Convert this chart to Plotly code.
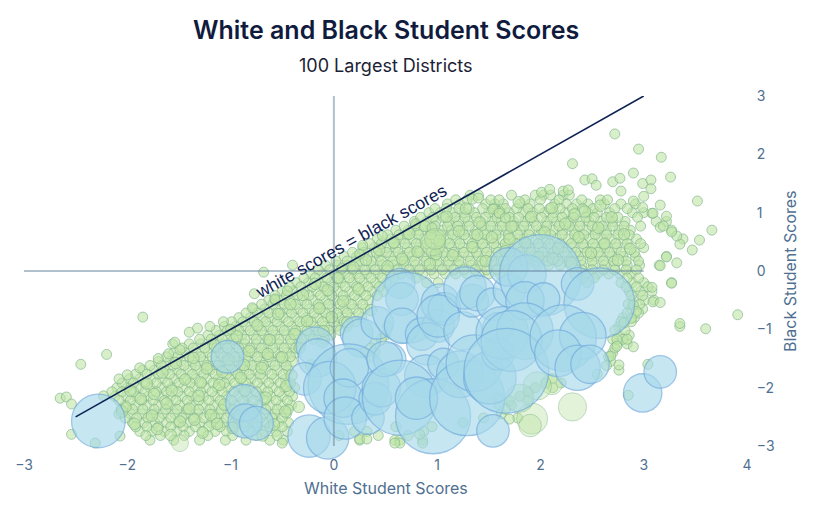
import plotly.graph_objects as go

# ---------------- data ----------------
# Blue bubbles: 100 largest districts (x = white score, y = black score, students in thousands)
big_x = [-2.28, -1.03, -0.87, -0.86, -0.75, -0.18, -0.16, -0.28, -0.24, -0.06,
         0.22, 0.27, 0.14, -0.04, 0.15, 0.09, 0.11, 0.33, 0.40, 0.46,
         0.42, 0.64, 0.66, 0.71, 0.66, 0.54, 0.49, 0.85, 1.01, 0.91,
         0.89, 0.64, 0.96, 0.80, 1.06, 1.03, 1.07, 1.01, 1.22, 1.29,
         1.25, 1.34, 1.27, 1.39, 1.36, 1.51, 1.54, 1.59, 1.59, 1.63,
         1.70, 1.69, 1.87, 2.00, 1.85, 2.03, 1.85, 1.72, 1.67, 2.36,
         2.57, 2.22, 2.41, 2.17, 2.36, 2.48, 1.54, 2.99, 3.16]
big_y = [-2.57, -1.47, -2.26, -2.57, -2.61, -1.29, -1.49, -1.85, -2.83, -2.86,
         -1.06, -1.15, -1.94, -2.00, -1.66, -2.18, -2.52, -2.52, -2.19, -2.00,
         -0.89, -0.21, -0.48, -0.63, -0.94, -1.51, -1.51, -1.08, -0.94, -1.25,
         -1.80, -2.17, -2.49, -2.18, -1.59, -0.55, -0.65, -0.77, -1.77, -2.18,
         -1.03, -0.51, -0.29, -0.38, -1.58, -1.83, -0.57, -0.98, -1.42, -1.06,
         -0.34, 0.07, -0.05, -0.08, -0.51, -0.48, -1.03, -1.20, -1.71, -0.22,
         -0.55, -1.15, -1.11, -1.41, -1.66, -1.60, -2.74, -2.09, -1.73]
big_students = [90, 33, 42, 36, 36, 46, 46, 33, 56, 56,
                33, 46, 203, 86, 46, 46, 56, 33, 33, 46,
                33, 28, 33, 156, 39, 33, 39, 33, 33, 56,
                56, 176, 176, 56, 30, 46, 33, 56, 68, 176,
                46, 33, 56, 39, 100, 86, 33, 30, 33, 86,
                33, 46, 46, 210, 46, 33, 100, 116, 225, 33,
                156, 138, 68, 68, 64, 46, 33, 46, 33]

# Green points: all other districts, listed row by row (black score of row, white scores in row)
row_y = [1.30, 1.15, 1.00, 0.85, 0.70, 0.55, 0.40, 0.25, 0.10, -0.05,
         -0.20, -0.35, -0.50, -0.65, -0.80, -0.95, -1.10, -1.25, -1.40, -1.55,
         -1.70, -1.85, -2.00, -2.15, -2.30, -2.45, -2.60, -2.75, -2.90,
         1.22, 1.07, 0.92, 0.77, 0.62, 0.47, 0.32, 0.17, 0.02, -0.12,
         -0.27, -0.42, -0.57, -0.72, -0.87, -1.02, -1.17, -1.32, -1.47, -1.62,
         -1.77, -1.92, -2.07, -2.22, -2.37, -2.52, -2.67, -2.82]
row_x = [
    [1.32, 1.40, 1.72, 1.95, 2.03, 2.10, 2.22, 2.28],
    [1.10, 1.22, 1.47, 1.56, 1.64, 1.80, 1.90, 2.14, 2.25, 2.35, 2.46, 2.62, 2.78, 2.92],
    [0.92, 1.03, 1.15, 1.26, 1.36, 1.50, 1.61, 1.70, 1.83, 1.93, 2.04, 2.13, 2.24, 2.33, 2.46, 2.55, 2.67, 2.89, 3.00],
    [0.78, 0.90, 0.99, 1.11, 1.21, 1.30, 1.42, 1.53, 1.62, 1.74, 1.85, 1.94, 2.06, 2.16, 2.27, 2.38, 2.47, 2.58, 2.70, 2.82, 3.12, 3.22],
    [0.60, 0.72, 0.82, 0.93, 1.05, 1.14, 1.25, 1.37, 1.47, 1.58, 1.68, 1.80, 1.90, 2.01, 2.12, 2.22, 2.33, 2.44, 2.54, 2.64, 2.76, 2.87, 3.27],
    [0.42, 0.55, 0.65, 0.76, 0.87, 0.98, 1.09, 1.19, 1.30, 1.41, 1.51, 1.62, 1.73, 1.84, 1.94, 2.05, 2.16, 2.27, 2.37, 2.48, 2.59, 2.69, 2.80, 2.93, 3.38],
    [0.28, 0.39, 0.50, 0.60, 0.71, 0.82, 0.93, 1.03, 1.14, 1.25, 1.35, 1.46, 1.57, 1.67, 1.78, 1.89, 1.99, 2.10, 2.21, 2.31, 2.42, 2.53, 2.63, 2.74, 2.86, 3.00],
    [0.10, 0.22, 0.33, 0.44, 0.55, 0.66, 0.76, 0.87, 0.98, 1.08, 1.19, 1.30, 1.40, 1.51, 1.62, 1.72, 1.83, 1.94, 2.05, 2.15, 2.26, 2.37, 2.48, 2.58, 2.69, 2.80, 2.92, 3.22],
    [-0.08, 0.03, 0.14, 0.25, 0.36, 0.47, 0.58, 0.68, 0.79, 0.90, 1.01, 1.11, 1.22, 1.33, 1.43, 1.54, 1.65, 1.76, 1.86, 1.97, 2.08, 2.19, 2.29, 2.40, 2.51, 2.62, 2.72, 2.84, 2.96, 3.15],
    [-0.22, -0.11, 0.00, 0.11, 0.22, 0.32, 0.43, 0.54, 0.65, 0.75, 0.86, 0.97, 1.08, 1.18, 1.29, 1.40, 1.50, 1.61, 2.33, 2.44, 2.55, 2.66, 2.77, 2.88],
    [-0.36, -0.25, -0.14, -0.03, 0.07, 0.18, 0.29, 0.40, 0.51, 0.90, 1.01, 2.45, 2.78, 2.89, 3.00, 3.27],
    [-0.50, -0.39, -0.28, -0.17, -0.06, 0.04, 0.15, 0.26, 0.37, 0.48, 2.86, 2.97, 3.08],
    [-0.63, -0.52, -0.42, -0.31, -0.20, -0.09, 0.01, 0.12, 0.23, 0.34, 2.90, 3.01, 3.10],
    [-0.78, -0.67, -0.56, -0.45, -0.35, -0.24, -0.13, -0.02, 0.09, 0.19, 0.30, 2.88, 2.99],
    [-0.92, -0.81, -0.70, -0.60, -0.49, -0.38, -0.27, -0.16, -0.06, 0.05, 0.16, 0.27, 2.80, 2.91],
    [-1.06, -0.95, -0.85, -0.74, -0.63, -0.52, -0.41, -0.31, -0.20, -0.09, 0.02, 0.13, 0.52, 2.76, 3.35],
    [-1.22, -1.11, -1.00, -0.89, -0.78, -0.68, -0.57, -0.46, -0.35, -0.24, -0.14, -0.03, 0.50, 2.76, 2.86],
    [-1.40, -1.29, -1.18, -1.07, -0.96, -0.86, -0.75, -0.64, -0.53, -0.42, -0.32, 0.40, 2.74, 2.84],
    [-1.55, -1.44, -1.33, -1.22, -1.11, -1.00, -0.89, -0.79, -0.68, -0.57, -0.46, -0.36, 0.30, 0.40, 2.70],
    [-1.70, -1.59, -1.48, -1.37, -1.26, -1.15, -1.05, -0.94, -0.83, -0.72, -0.61, -0.50, -0.40, 2.68],
    [-1.85, -1.74, -1.63, -1.52, -1.41, -1.31, -1.20, -1.09, -0.98, -0.87, -0.76, -0.66, -0.55, -0.44, 2.76],
    [-1.98, -1.88, -1.77, -1.66, -1.55, -1.44, -1.34, -1.23, -1.12, -1.01, -0.90, -0.80, -0.69, -0.58, -0.47, 2.11],
    [-2.10, -2.00, -1.89, -1.78, -1.67, -1.57, -1.46, -1.35, -1.24, -1.13, -1.03, -0.92, -0.81, -0.70, -0.59, -0.48, -0.38, 1.95, 2.12],
    [-2.12, -2.01, -1.91, -1.80, -1.69, -1.58, -1.47, -1.37, -1.26, -1.15, -1.04, -0.93, -0.83, -0.72, -0.61, -0.50, -0.40, 1.80],
    [-2.02, -1.92, -1.81, -1.70, -1.59, -1.49, -1.38, -1.27, -1.16, -1.05, -0.95, -0.84, -0.73, -0.62, -0.51, -0.41, 1.60, 1.72],
    [-2.08, -1.97, -1.86, -1.75, -1.65, -1.54, -1.43, -1.32, -1.21, -1.11, -1.00, -0.89, -0.78, -0.67, -0.57, -0.46, 1.62],
    [-1.95, -1.84, -1.73, -1.62, -1.51, -1.41, -1.30, -1.19, -1.08, -0.97, -0.87, -0.76, -0.65, -0.54, -0.44, 1.25],
    [-1.88, -1.76, -1.64, -1.52, -1.40, -1.27, -1.15, -1.04, -0.92, -0.80, -0.68, -0.56, -0.45, 0.20, 0.32, 0.87],
    [-1.78, -1.55, -1.30, -1.05, -0.85, -0.62, -0.49, 0.25, 0.59, 0.64, 0.86],
    # in-between rows
    [1.18, 1.29, 1.52, 1.60, 1.85, 2.00, 2.18, 2.40, 2.58],
    [0.98, 1.09, 1.21, 1.31, 1.44, 1.55, 1.66, 1.77, 1.88, 1.99, 2.09, 2.19, 2.31, 2.41, 2.51, 2.72, 2.84],
    [0.84, 0.96, 1.06, 1.17, 1.27, 1.38, 1.47, 1.58, 1.70, 1.79, 1.90, 2.01, 2.12, 2.21, 2.32, 2.44, 2.52, 2.64, 2.75, 2.94],
    [0.68, 0.79, 0.88, 0.98, 1.10, 1.20, 1.31, 1.43, 1.52, 1.63, 1.74, 1.84, 1.96, 2.06, 2.18, 2.28, 2.38, 2.50, 2.60, 2.70, 2.81, 2.97],
    [0.52, 0.63, 0.71, 0.82, 0.94, 1.04, 1.15, 1.26, 1.36, 1.46, 1.57, 1.69, 1.78, 1.89, 2.00, 2.10, 2.21, 2.33, 2.42, 2.53, 2.64, 2.75, 2.86],
    [0.35, 0.46, 0.58, 0.69, 0.80, 0.90, 1.02, 1.12, 1.22, 1.34, 1.44, 1.55, 1.66, 1.77, 1.87, 1.98, 2.09, 2.19, 2.30, 2.41, 2.51, 2.62, 2.73, 2.84, 2.97],
    [0.18, 0.29, 0.41, 0.51, 0.62, 0.73, 0.83, 0.94, 1.06, 1.16, 1.26, 1.38, 1.48, 1.59, 1.70, 1.80, 1.91, 2.02, 2.13, 2.23, 2.34, 2.45, 2.56, 2.67, 2.78, 2.91],
    [0.02, 0.13, 0.24, 0.36, 0.46, 0.57, 0.68, 0.78, 0.89, 1.00, 1.11, 1.21, 1.32, 1.43, 1.53, 1.64, 1.75, 1.85, 1.96, 2.07, 2.17, 2.28, 2.39, 2.50, 2.61, 2.71, 2.83, 2.95],
    [-0.15, -0.04, 0.07, 0.18, 0.30, 0.40, 0.51, 0.62, 0.73, 0.83, 0.94, 1.05, 1.16, 1.26, 1.37, 1.48, 1.58, 1.69, 2.40, 2.50, 2.61, 2.72, 2.83, 2.93],
    [-0.29, -0.18, -0.07, 0.04, 0.15, 0.25, 0.36, 0.47, 0.58, 0.80, 2.41, 2.52, 2.84, 2.95],
    [-0.43, -0.32, -0.21, -0.10, 0.00, 0.11, 0.22, 0.33, 0.44, 2.83, 2.93, 3.04],
    [-0.57, -0.46, -0.35, -0.24, -0.13, -0.02, 0.09, 0.20, 0.31, 0.42, 2.88, 2.99],
    [-0.70, -0.59, -0.48, -0.37, -0.26, -0.15, -0.05, 0.06, 0.17, 0.28, 2.85, 2.96],
    [-0.85, -0.74, -0.63, -0.52, -0.41, -0.30, -0.19, -0.08, 0.03, 0.13, 0.24, 2.84, 2.95],
    [-0.99, -0.88, -0.77, -0.66, -0.55, -0.44, -0.33, -0.22, -0.11, 0.00, 0.10, 0.21, 2.78, 2.88],
    [-1.14, -1.03, -0.92, -0.81, -0.70, -0.59, -0.48, -0.37, -0.26, -0.15, -0.05, 0.06, 2.72, 2.82],
    [-1.30, -1.19, -1.08, -0.97, -0.86, -0.75, -0.64, -0.53, -0.42, -0.31, -0.20, -0.09, 0.46, 2.70, 2.80],
    [-1.47, -1.36, -1.25, -1.14, -1.03, -0.92, -0.81, -0.70, -0.59, -0.48, -0.37, 0.36, 2.72],
    [-1.62, -1.51, -1.40, -1.29, -1.18, -1.07, -0.96, -0.85, -0.74, -0.63, -0.52, -0.42, 0.35, 2.66],
    [-1.78, -1.67, -1.56, -1.45, -1.34, -1.23, -1.12, -1.01, -0.90, -0.79, -0.68, -0.57, -0.46, 2.64],
    [-1.92, -1.81, -1.70, -1.59, -1.48, -1.37, -1.26, -1.15, -1.04, -0.93, -0.82, -0.71, -0.60, -0.49, 2.55],
    [-2.05, -1.94, -1.83, -1.72, -1.61, -1.50, -1.39, -1.28, -1.17, -1.06, -0.96, -0.85, -0.74, -0.63, -0.52, -0.42, 2.05, 2.20],
    [-2.15, -2.05, -1.94, -1.83, -1.72, -1.62, -1.51, -1.40, -1.29, -1.18, -1.08, -0.97, -0.86, -0.75, -0.64, -0.53, -0.43, 1.88],
    [-2.08, -1.97, -1.86, -1.75, -1.64, -1.53, -1.42, -1.31, -1.21, -1.10, -0.99, -0.88, -0.78, -0.67, -0.56, -0.45, 1.70, 1.88],
    [-2.06, -1.95, -1.85, -1.74, -1.63, -1.52, -1.42, -1.31, -1.20, -1.09, -0.98, -0.88, -0.77, -0.66, -0.55, -0.44, 1.66],
    [-2.02, -1.91, -1.80, -1.69, -1.58, -1.47, -1.36, -1.26, -1.15, -1.04, -0.93, -0.82, -0.71, -0.60, -0.50, 1.45, 1.78],
    [-1.92, -1.81, -1.70, -1.58, -1.46, -1.34, -1.21, -1.10, -0.98, -0.86, -0.74, -0.62, -0.50, 0.60, 0.95],
    [-1.82, -1.68, -1.45, -1.22, -0.98, -0.75, -0.55, 0.05, 0.43, 0.72],
]

# Additional districts scattered inside the main cloud
fill_x = [-2.05, -1.93, -1.87, -1.81, -1.76, -1.71, -1.66, -1.62, -1.57, -1.53, -1.49, -1.44, -1.40, -1.36,
          -1.31, -1.27, -1.23, -1.19, -1.15, -1.11, -1.06, -1.02, -0.98, -0.94, -0.90, -0.86, -0.82, -0.78,
          -0.74, -0.70, -0.66, -0.62, -0.58, -0.54, -0.50, -0.46, -0.42, -0.38, -0.34, -0.30, -0.26, -0.22,
          -0.18, -0.14, -0.10, -0.06, -0.02, 0.04, 0.09, 0.13, 0.19, 0.24, 0.31, 0.36, -1.97, -1.74, -1.58,
          -1.35, -1.13, -0.92, -0.69, -0.47, -0.64, -0.87, -1.08, -1.29, -0.33, -0.41, -0.11,
          0.44, 0.52, 0.58, 0.66, 0.73, 0.81, 0.88, 0.93, 1.02, 1.09, 1.15, 1.21, 1.28, 1.34, 1.41, 1.47,
          1.53, 1.60, 1.66, 1.72, 1.79, 1.85, 1.91, 1.98, 2.04, 2.11, 2.17, 2.24, 2.30, 2.37, 2.43, 2.49,
          2.56, 2.62, 2.69, 2.75, 2.81, 2.87, 2.12, 1.39, 0.99, 2.58, 1.70, 2.33]
fill_y = [-2.41, -2.62, -2.19, -1.93, -2.48, -2.71, -1.74, -2.27, -2.05, -1.58, -2.58, -1.86, -2.36, -1.49,
          -2.14, -2.77, -1.67, -2.47, -1.28, -1.95, -2.29, -1.52, -2.69, -1.12, -1.83, -2.05, -1.37, -2.42,
          -0.93, -1.66, -2.17, -1.18, -2.63, -0.74, -1.48, -1.97, -0.57, -1.08, -2.33, -0.41, -0.86, -1.62,
          -0.22, -0.64, -1.03, -0.33, -0.79, -0.12, -0.52, -0.88, 0.06, -0.31, 0.19, -0.67, -2.05, -2.11, -2.81,
          -2.55, -2.62, -2.49, -2.82, -2.41, -1.42, -1.61, -1.73, -1.91, -1.32, -1.79, -1.22,
          0.36, 0.08, 0.49, 0.21, 0.64, 0.33, 0.77, 0.12, 0.52, 0.93, 0.27, 0.68, 1.07, 0.41, 0.83, 0.17,
          0.58, 1.01, 0.34, 0.76, 1.18, 0.49, 0.93, 0.24, 0.66, 1.08, 0.39, 0.81, 0.14, 0.58, 1.02, 0.31,
          0.74, 0.47, 0.92, 0.19, 0.63, 0.38, 0.21, 0.62, 0.29, 1.12, 0.55, 0.97]

# Scattered green districts away from the main cloud
sparse_x = [2.72, 2.95, 3.17, 2.31, 3.26, 2.90, 2.43, 2.50, 2.54, 2.70, 2.77, 2.99, 3.07, 3.07, 3.52,
            3.66, 3.54, 3.47, 3.35, 3.32, 3.27, 3.22, 3.16, 3.16, 3.08, 3.19, 2.65, 2.78, 2.90, 3.00,
            2.99, 3.09, 3.32, 3.22, 3.16, 3.27, 3.08, 3.09, 3.16, 2.01, 2.09, 2.22, 2.27, 1.34, 1.40,
            1.54, 1.60, 1.66,
            2.90, 2.93, 2.88, 2.81, 2.74, 2.84, 2.90, 2.74, 2.68, 2.76, 3.04, 3.35, 3.60, 3.91, 2.85,
            1.70, 1.59, 1.00, 1.19, 0.86, 0.83, 0.64, 0.25, 0.32, 0.59,
            -2.45, -2.20, -1.85, -2.65, -2.59, -2.54, -2.54, -2.78, -2.38, -2.24, -2.31, -2.07, -1.90,
            -1.99, -1.95, -1.86, -1.46, -1.27, -1.24, -1.13, -1.03, -0.74, -0.89, -2.30, -1.86, -2.97,
            -1.34, -0.88, -0.65, -0.93, -0.60, -0.50, -2.23, -2.01, -1.88, -1.56, -1.49, -1.32, -1.07,
            -1.00, -0.79, -0.57, -0.68, -0.40, -0.77, -0.57, -0.45, 0.08, 0.25, 0.28, 0.47, 0.79, 0.95,
            -1.54, -1.70, -1.60, -2.08, -2.00, -1.40, -1.20]
sparse_y = [2.35, 2.09, 1.95, 1.84, 1.61, 1.68, 1.56, 1.58, 1.47, 1.53, 1.59, 1.50, 1.56, 1.41, 1.20,
            0.70, 0.53, 0.36, 0.46, 0.60, 0.67, 0.94, 0.75, 1.13, 0.99, 0.77, 1.22, 1.37, 1.20, 1.28,
            1.09, 0.99, 0.14, 0.24, 0.09, -0.21, -0.28, -0.53, -0.54, 1.35, 1.40, 1.37, 1.39, 1.23, 1.25,
            1.06, 0.99, 0.91,
            -0.58, -0.69, -0.81, -0.89, -1.17, -1.17, -1.30, -1.29, -1.46, -1.61, -1.60, -0.90, -0.99, -0.75, -2.13,
            -2.54, -2.18, -3.09, -3.07, -2.95, -2.80, -2.95, -2.88, -2.88, -2.95,
            -1.60, -1.43, -0.79, -2.18, -2.16, -2.28, -2.80, -3.12, -3.45, -3.28, -2.95, -2.83, -3.12,
            -3.29, -3.45, -3.46, -3.12, -3.15, -3.53, -3.65, -3.57, -3.46, -3.29, -3.82, -3.96, -3.46,
            -3.65, -3.29, -3.70, -3.10, -3.12, -2.95, -2.14, -2.33, -1.66, -1.25, -1.35, -0.98, -0.87,
            -1.00, -0.63, -0.50, -0.02, 0.10, -0.39, -0.48, -0.34, 0.05, 0.29, 0.44, 0.60, 0.81, 0.74,
            -1.22, -1.50, -1.42, -1.85, -1.78, -1.05, -0.95]

# Somewhat larger (mid-size) green districts
mid_x = [-2.18, -1.68, -1.12, -0.78, -1.49, 2.31, 1.92, 1.90, 2.11, 1.97, 1.80, 0.96, 0.98]
mid_y = [-3.02, -3.07, -3.12, -3.02, -2.95, -2.33, -2.53, -2.65, -1.94, -1.97, -2.18, 0.48, 0.55]
mid_students = [11, 25, 14, 25, 9, 25, 30, 16, 14, 25, 25, 20, 14]

# flatten the row listing
green_x, green_y = [], []
for yv, xs in zip(row_y, row_x):
    for xv in xs:
        green_x.append(xv)
        green_y.append(yv)

# ---------------- styling ----------------
GREEN_FILL = "rgba(190,228,165,0.6)"
GREEN_LINE = "rgba(128,180,140,0.65)"
BLUE_FILL = "rgba(165,216,234,0.9)"
BLUE_LINE = "rgb(115,172,222)"
NAVY = "#0e2354"
TICK = "#4f7090"
SIZEREF = 1 / 16

fig = go.Figure()

fig.add_trace(go.Scatter(
    x=green_x, y=green_y, mode="markers", cliponaxis=False, hoverinfo="skip",
    marker=dict(size=10, color=GREEN_FILL, line=dict(color=GREEN_LINE, width=1)),
))
fig.add_trace(go.Scatter(
    x=fill_x, y=fill_y, mode="markers", cliponaxis=False, hoverinfo="skip",
    marker=dict(size=11.5, color=GREEN_FILL, line=dict(color=GREEN_LINE, width=1)),
))
fig.add_trace(go.Scatter(
    x=sparse_x, y=sparse_y, mode="markers", cliponaxis=False, hoverinfo="skip",
    marker=dict(size=10, color=GREEN_FILL, line=dict(color=GREEN_LINE, width=1)),
))
fig.add_trace(go.Scatter(
    x=mid_x, y=mid_y, mode="markers", cliponaxis=False, hoverinfo="skip",
    marker=dict(size=mid_students, sizemode="area", sizeref=SIZEREF,
                color=GREEN_FILL, line=dict(color=GREEN_LINE, width=1)),
))
fig.add_trace(go.Scatter(
    x=big_x, y=big_y, mode="markers", cliponaxis=False, hoverinfo="skip",
    marker=dict(size=big_students, sizemode="area", sizeref=SIZEREF,
                color=BLUE_FILL, line=dict(color=BLUE_LINE, width=1.3)),
))

# reference lines
fig.add_shape(type="line", x0=0, x1=0, y0=-3, y1=3, xref="x", yref="y",
              line=dict(color="rgba(100,130,155,0.5)", width=2), layer="above")
fig.add_shape(type="line", x0=-3, x1=3, y0=0, y1=0, xref="x", yref="y",
              line=dict(color="rgba(100,130,155,0.5)", width=2), layer="above")
fig.add_shape(type="line", x0=-2.5, x1=3, y0=-2.5, y1=3, xref="x", yref="y",
              line=dict(color=NAVY, width=1.6), layer="above")

fig.add_annotation(x=0.17, y=0.52, xref="x", yref="y", text="white scores = black scores",
                   textangle=-29, showarrow=False,
                   font=dict(family="Liberation Sans, Arial", size=17.5, color=NAVY))

# titles (paper coords: plot area spans y pixels 96..446)
fig.add_annotation(x=0.5, y=(446 - 30) / 350, xref="paper", yref="paper",
                   text="White and Black Student Scores", showarrow=False,
                   font=dict(family="Inter", size=25, weight=600, color="#101b3d"),
                   xanchor="center", yanchor="middle")
fig.add_annotation(x=0.5, y=(446 - 65) / 350, xref="paper", yref="paper",
                   text="100 Largest Districts", showarrow=False,
                   font=dict(family="Inter", size=18, color="#1b2235"), xanchor="center", yanchor="middle")
fig.add_annotation(x=0.5, y=-0.12, xref="paper", yref="paper", text="White Student Scores",
                   showarrow=False, font=dict(family="Inter", size=16, color=TICK),
                   xanchor="center", yanchor="middle")
fig.add_annotation(x=1.0595, y=0.5, xref="paper", yref="paper", text="Black Student Scores",
                   showarrow=False, textangle=-90, font=dict(family="Inter", size=16, color=TICK),
                   xanchor="center", yanchor="middle")

fig.update_layout(
    width=814, height=525,
    margin=dict(l=24, r=67, t=96, b=79),
    paper_bgcolor="white", plot_bgcolor="white",
    showlegend=False,
    xaxis=dict(range=[-3, 4], tickvals=[-3, -2, -1, 0, 1, 2, 3, 4], showgrid=False, zeroline=False,
               showline=False, ticks="outside", ticklen=6, tickcolor="rgba(0,0,0,0)",
               tickfont=dict(family="Inter", size=14, color=TICK)),
    yaxis=dict(range=[-3, 3], tickvals=[-3, -2, -1, 0, 1, 2, 3], side="right", showgrid=False,
               zeroline=False, showline=False, ticks="outside", ticklen=6, tickcolor="rgba(0,0,0,0)",
               tickfont=dict(family="Inter", size=14, color=TICK)),
)

fig.write_html("out.html")
